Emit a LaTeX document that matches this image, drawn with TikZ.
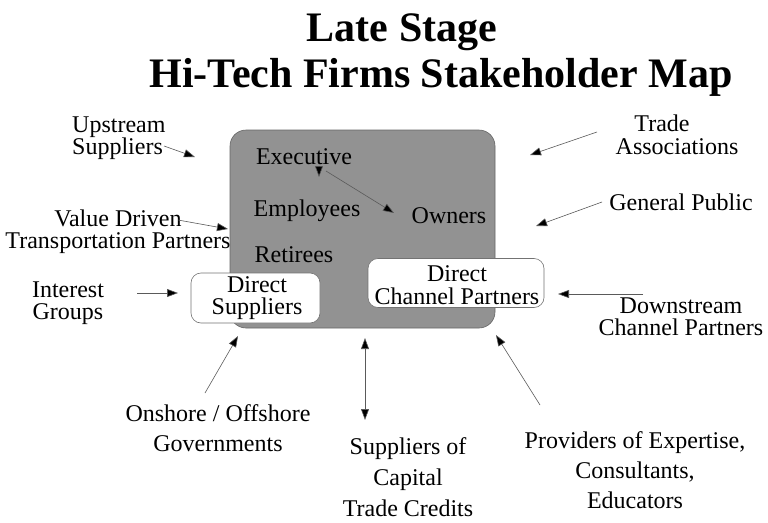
\documentclass[tikz,border=0pt]{standalone}
\usepackage{fontspec}
\setmainfont{Liberation Serif}
\usetikzlibrary{arrows.meta}
\definecolor{boxgray}{RGB}{146,146,146}
\definecolor{linegray}{RGB}{90,90,90}
\begin{document}
\begin{tikzpicture}[x=1pt,y=-1pt,
  lbl/.style={font=\fontsize{24}{25}\selectfont, align=center, inner sep=0pt},
  tight/.style={font=\fontsize{24}{22.5}\selectfont},
  ttl/.style={font=\fontsize{42}{45}\selectfont\bfseries, align=center, inner sep=0pt},
  arr/.style={draw=linegray, line width=0.6pt, -{Triangle[length=11pt,width=8pt,fill=black]}},
  dblarr/.style={draw=linegray, line width=0.6pt, {Triangle[length=11pt,width=8pt,fill=black]}-{Triangle[length=11pt,width=8pt,fill=black]}},
  whitebox/.style={draw=black!55, fill=white, rounded corners=10pt, line width=0.6pt, inner sep=0pt},
]
\useasboundingbox (0,0) rectangle (768,522);
% title
\node[ttl] (t1) at (402,32) {Late Stage};
\node[ttl] (t2) at (441,77) {Hi-Tech Firms Stakeholder Map};
% core box
\node[draw=black!60, fill=boxgray, rounded corners=16pt, minimum width=265pt, minimum height=198pt, inner sep=0pt, line width=0.6pt] (core) at (362.5,229) {};
\node[lbl] (exec) at (304,157) {Executive};
\node[lbl] (empl) at (307,211) {Employees};
\node[lbl] (own) at (449,216) {Owners};
\node[lbl] (ret) at (294,255) {Retirees};
\node[whitebox, minimum width=129pt, minimum height=50pt] (dsbox) at (255.5,298) {};
\node[lbl, tight] (ds) at (257,298) {Direct\\Suppliers};
\node[whitebox, minimum width=176pt, minimum height=49pt] (dcbox) at (456,283) {};
\node[lbl, font=\fontsize{24}{23}\selectfont] (dc) at (457,285.5) {Direct\\Channel Partners};
% outer labels
\node[lbl, tight, align=left, anchor=west] (ups) at (72,138) {Upstream\\Suppliers};
\node[lbl, font=\fontsize{24}{22}\selectfont] (vd) at (118,231.5) {Value Driven\\Transportation Partners};
\node[lbl, font=\fontsize{24}{22}\selectfont] (ig) at (68,303) {Interest\\Groups};
\node[lbl, font=\fontsize{24}{30}\selectfont] (gov) at (218,428) {Onshore / Offshore\\Governments};
\node[lbl, font=\fontsize{24}{31}\selectfont] (cap) at (408,477) {Suppliers of\\Capital\\Trade Credits};
\node[lbl, font=\fontsize{24}{30}\selectfont] (prov) at (635,470) {Providers of Expertise,\\Consultants,\\Educators};
\node[lbl, tight] (down) at (681,317) {Downstream\\Channel Partners};
\node[lbl] (pub) at (681,202) {General Public};
\node[lbl, tight] (trade) at (677,135) {Trade\hspace*{30pt}\\Associations};
% arrow end points
\coordinate (upsT) at (164,146); \coordinate (upsH) at (195,157);
\coordinate (vdT) at (178,220); \coordinate (vdH) at (228,229);
\coordinate (igT) at (137,293); \coordinate (igH) at (178,293);
\coordinate (govT) at (205,393); \coordinate (govH) at (238,336);
\coordinate (capT) at (365,420); \coordinate (capH) at (365,338);
\coordinate (provT) at (540,405); \coordinate (provH) at (496,335);
\coordinate (downT) at (643,294); \coordinate (downH) at (558,294);
\coordinate (pubT) at (602,202); \coordinate (pubH) at (536,226);
\coordinate (tradeT) at (597,132); \coordinate (tradeH) at (530,155);
\coordinate (exT) at (319,166); \coordinate (exH) at (319,177);
\coordinate (eoT) at (326,171); \coordinate (eoH) at (394,213);
% arrows
\draw[arr] (upsT) -- (upsH);
\draw[arr] (vdT) -- (vdH);
\draw[arr] (igT) -- (igH);
\draw[arr] (govT) -- (govH);
\draw[dblarr] (capT) -- (capH);
\draw[arr] (provT) -- (provH);
\draw[arr] (downT) -- (downH);
\draw[arr] (pubT) -- (pubH);
\draw[arr] (tradeT) -- (tradeH);
\draw[arr] (exT) -- (exH);
\draw[arr] (eoT) -- (eoH);
\end{tikzpicture}
\end{document}
